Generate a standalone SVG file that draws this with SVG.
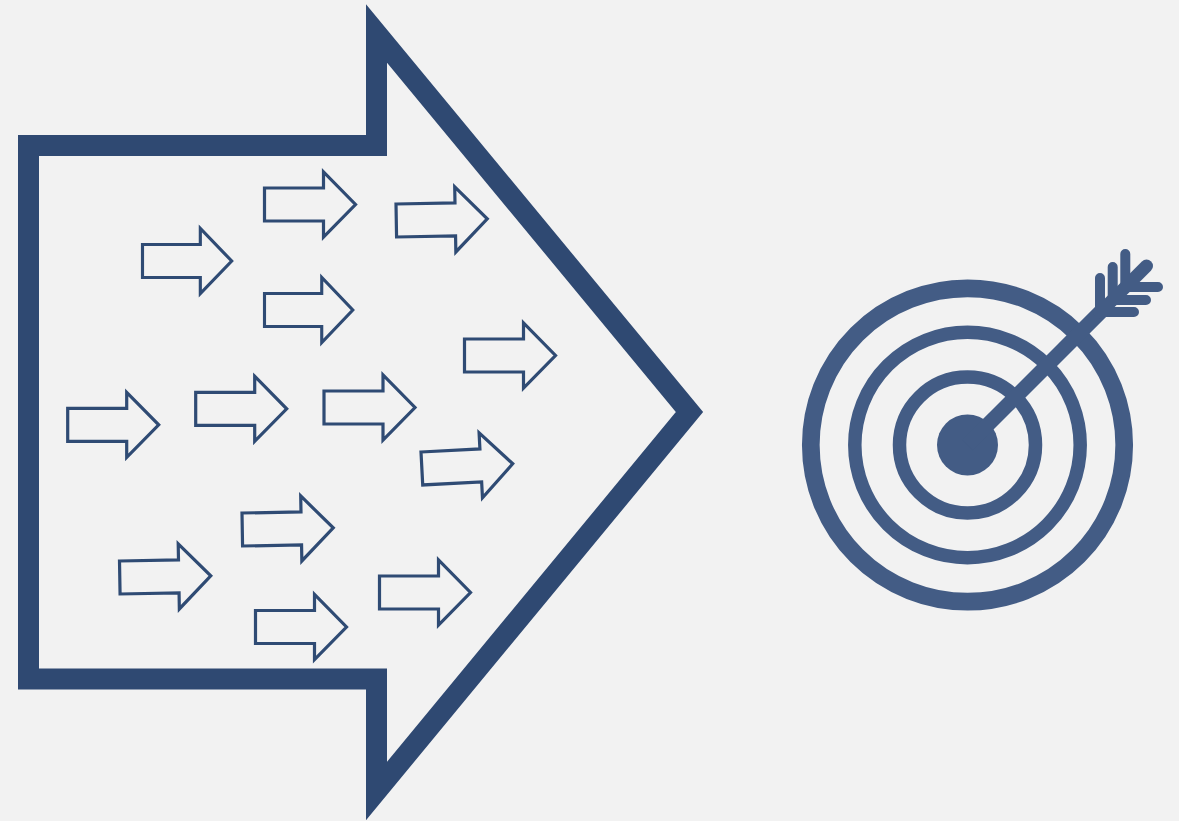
<svg xmlns="http://www.w3.org/2000/svg" width="1179" height="821" viewBox="0 0 1179 821">
<style>
.small{fill:#f2f2f2;stroke:#2f4b74;stroke-width:3.200;stroke-miterlimit:10}
.ring{fill:none;stroke:#435c85}
.fl{fill:none;stroke:#435c85;stroke-width:10;stroke-linecap:round}
</style>
<defs><path id="a" d="M0,0H59V-16L91,16.500L59,49V33H0Z"/></defs>
<rect width="1179" height="821" fill="#f2f2f2"/>
<g id="big-arrow"><path d="M28.500,145.500H376.500V33.500L689.500,412L376.500,791V679H28.500Z" fill="none" stroke="#2f4972" stroke-width="21" stroke-miterlimit="10"/></g>
<g id="small-arrows">
<use href="#a" class="small" transform="translate(142.500,244.500) scale(.98,1)"/>
<use href="#a" class="small" transform="translate(264.500,188)"/>
<use href="#a" class="small" transform="translate(396,204) rotate(-1)"/>
<use href="#a" class="small" transform="translate(264.500,293.500) scale(.97,1)"/>
<use href="#a" class="small" transform="translate(464.500,339)"/>
<use href="#a" class="small" transform="translate(67.700,408.300)"/>
<use href="#a" class="small" transform="translate(195.700,392.300)"/>
<use href="#a" class="small" transform="translate(324,391)"/>
<use href="#a" class="small" transform="translate(421,452) rotate(-3)"/>
<use href="#a" class="small" transform="translate(242,513) rotate(-1)"/>
<use href="#a" class="small" transform="translate(119.500,561) rotate(-1)"/>
<use href="#a" class="small" transform="translate(379.500,576)"/>
<use href="#a" class="small" transform="translate(255.500,610.500)"/>
</g>
<g id="target">
<circle class="ring" cx="967.500" cy="445" r="156.700" stroke-width="17.700"/>
<circle class="ring" cx="967.500" cy="445" r="112.700" stroke-width="13.500"/>
<circle class="ring" cx="967.500" cy="445" r="68" stroke-width="13.500"/>
<circle cx="967.500" cy="445" r="30.500" fill="#435c85"/>
<path d="M967.500,445L1105,307.500" fill="none" stroke="#435c85" stroke-width="15"/>
<path d="M1100,312V278M1112.700,300V267M1125.300,287V254M1100,312H1134M1112.700,300H1146M1125.300,287H1158" class="fl"/>
<path d="M1100,312.500L1146.500,266" fill="none" stroke="#435c85" stroke-width="13" stroke-linecap="round"/>
</g>
</svg>
